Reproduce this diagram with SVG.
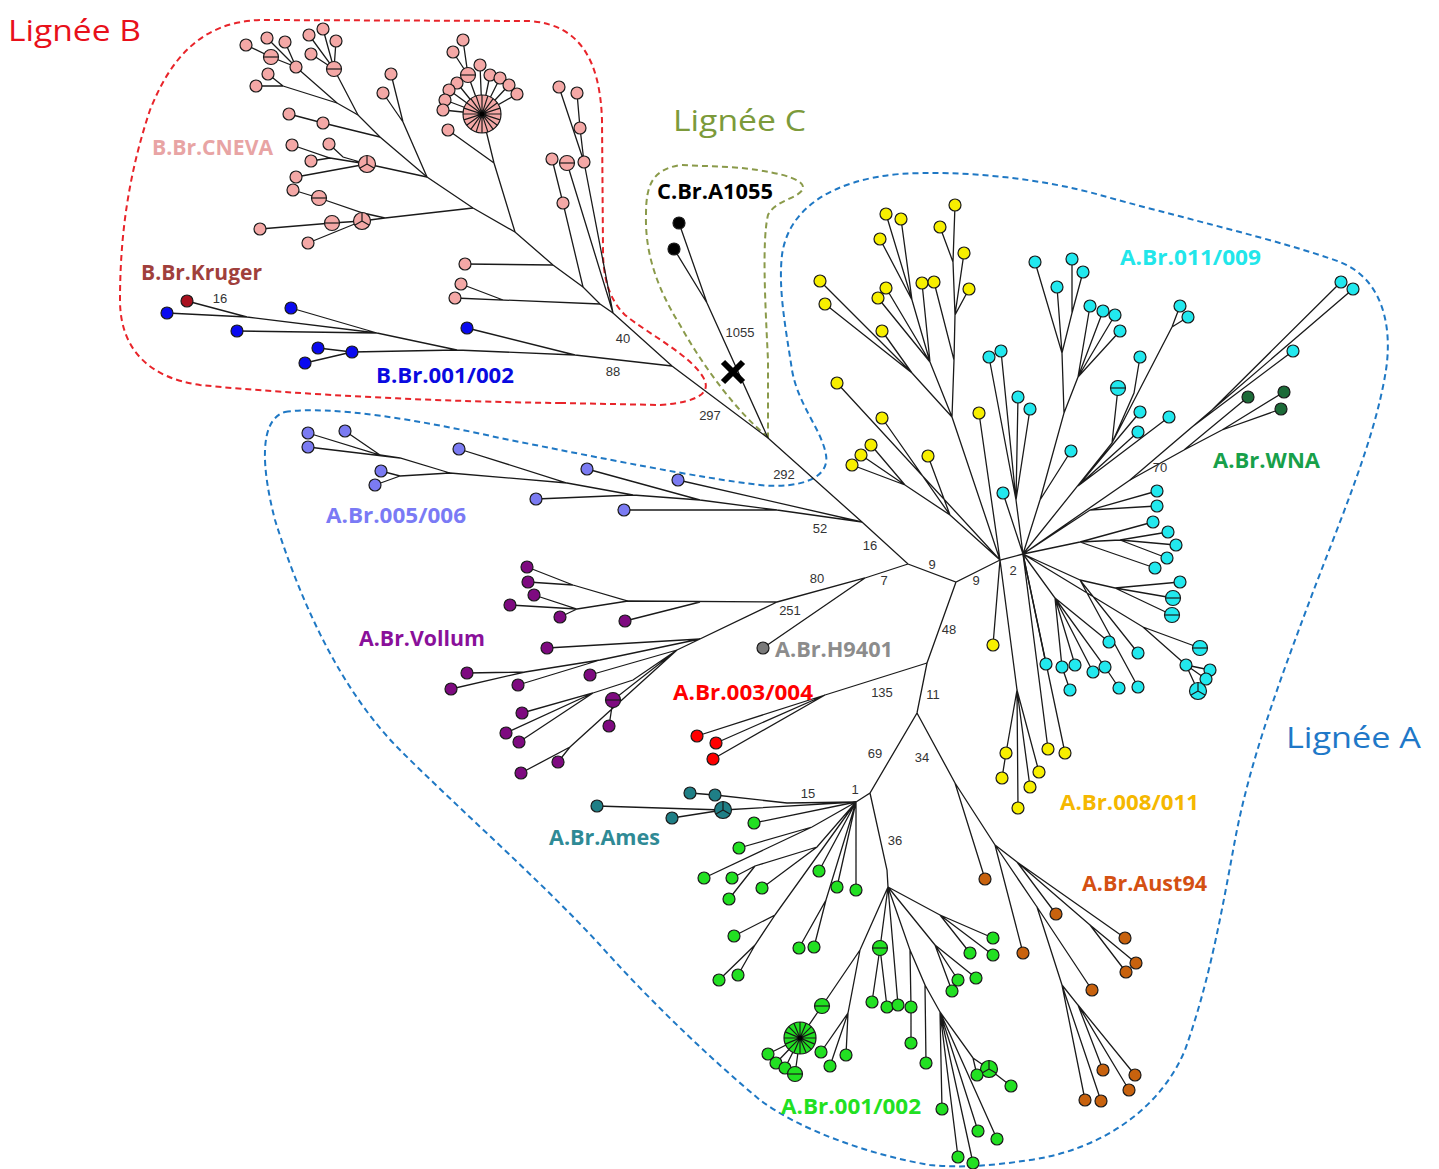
<svg xmlns="http://www.w3.org/2000/svg" width="1439" height="1169" viewBox="0 0 1439 1169">
<style>
.e{fill:none;stroke:#1a1a1a;stroke-width:1.3}
.sp{fill:none;stroke:#1a1a1a;stroke-width:1.2}
.n{stroke:#1a1a1a;stroke-width:1.2}
.pk{fill:#f4a8a6}.bl{fill:#0a0af0}.kr{fill:#a8101e}.bk{fill:#000}.lv{fill:#7b7bf2}.pu{fill:#7e0a80}.gy{fill:#7a7a7a}.rd{fill:#ff0000}.tl{fill:#1f7f86}.gr{fill:#22e022}.or{fill:#c8620e}.ye{fill:#f7ef00}.cy{fill:#22e8ee}.dg{fill:#1c6b38}
.num{font-family:'Liberation Sans',Arial,sans-serif;font-size:13px;fill:#333;text-anchor:middle}
.lab{font-family:'Open Sans','Liberation Sans',Arial,sans-serif;font-weight:bold;font-size:21px}
.lin{font-family:'Open Sans','Liberation Sans',Arial,sans-serif;font-size:30px}
.hull{fill:none;stroke-width:2;stroke-dasharray:6 4}
</style>
<g id="hulls">
<path id="hullB" class="hull" stroke="#e8242a" d="M560,403 L660,405 C700,402 712,392 703,377 C690,355 650,335 625,315 C610,300 603,280 603,250 L602,120 C600,60 580,25 530,21 L260,20 C200,22 170,60 150,110 C130,170 120,230 120,300 C120,350 150,378 200,385 C300,395 450,402 560,403 Z"/>
<path id="hullC" class="hull" stroke="#8a9a4a" d="M768,437 C740,415 705,370 680,325 C655,285 645,250 646,215 C646,185 652,170 680,165 L730,167 C770,170 805,178 803,188 C801,198 775,200 768,215 C762,240 765,300 768,360 L768,437 Z"/>
<path id="hullA" class="hull" stroke="#1f78c4" d="M285,412 C330,405 420,420 500,438 C600,458 700,478 760,485 C800,489 830,478 826,455 C822,430 798,405 792,370 C786,330 778,290 782,255 C788,210 830,180 900,174 C960,170 1040,178 1100,195 C1170,215 1280,240 1340,262 C1385,280 1392,330 1386,370 C1375,440 1340,520 1310,600 C1280,680 1250,760 1235,840 C1222,910 1210,980 1185,1050 C1160,1110 1100,1150 1030,1160 C990,1166 960,1168 930,1165 C870,1155 800,1130 760,1100 C700,1050 640,990 600,945 C540,880 460,810 400,750 C340,690 300,600 275,520 C262,470 258,420 285,412 Z"/>
</g>
<g id="connectors">
<path id="backbone" class="e" d="M283,86 L337,103 L358,115 L380,137 L427,177 L473,208 L515,232 L553,265 L583,287 L600,304 L613,313 L672,366 L768,438 L862,522 L908,564 L956,582 L1000,560 L1023,554 M956,582 L927,663 L917,713 L870,793 L856,802 M870,793 L887,870 L888,887 M908,564 L865,578 L777,602 M865,578 L763,648"/>
<path id="e-cneva" class="e" d="M283,86 L256,86 M283,86 L268,74 M337,103 L296,67 L271,57 L246,45 M296,67 L267,38 M296,67 L285,42 M358,115 L334,69 L309,35 M334,69 L323,29 M334,69 L336,41 M334,69 L311,54 M380,137 L323,123 L289,114 M427,177 L403,122 L391,74 M403,122 L383,93 M427,177 L367,164 L330,158 L292,145 M330,158 L311,161 M367,164 L343,157 L329,144 M367,164 L296,177 M473,208 L385,218 L362,221 L332,223 L260,229 M362,221 L308,243 M385,218 L363,213 L319,198 L293,190 M515,232 L494,163 L482,114 M494,163 L448,130 M482,114 L468,75 L463,40 M468,75 L453,52 M482,114 L480,65 M482,114 L490,75 M482,114 L500,78 M482,114 L509,85 M482,114 L517,94 M482,114 L457,83 M482,114 L449,90 M482,114 L445,100 M482,114 L443,110 M553,265 L465,264 M600,304 L455,298 M503,300 L461,284 M583,287 L563,203 L552,159 M613,313 L567,163 M613,313 L584,162 L580,128 L577,93 M584,162 L559,87"/>
<path id="e-b001" class="e" d="M672,366 L575,355 L457,350 L352,352 L318,348 M352,352 L305,363 M575,355 L467,328 M457,350 L377,333 L237,331 M377,333 L291,308 M377,333 L247,317 L187,301 M247,317 L167,313"/>
<path id="e-c" class="e" d="M768,438 L707,303 L679,223 M707,303 L674,249"/>
<path id="e-a005" class="e" d="M862,522 L678,480 M862,522 L777,510 L624,510 M777,510 L700,500 L587,469 M700,500 L633,495 L536,499 M633,495 L567,483 L459,449 M567,483 L450,473 L400,476 L381,471 M400,476 L375,485 M450,473 L400,458 L308,447 M400,458 L380,455 L308,433 M380,455 L345,431"/>
<path id="e-vollum" class="e" d="M777,602 L628,601 L573,585 L527,567 M573,585 L528,582 M628,601 L577,609 L534,595 M577,609 L510,605 M577,609 L560,617 M700,602 L625,621 M777,602 L677,650 M700,639 L547,648 M700,639 L600,660 L525,672 L467,673 M525,672 L451,689 M600,660 L518,685 M677,650 L590,675 M677,650 L613,700 L609,726 M677,650 L633,680 L593,693 L522,713 M593,693 L506,733 M593,693 L519,742 M677,650 L570,747 L558,762 M570,747 L521,773"/>
<path id="e-a003" class="e" d="M927,663 L825,695 L697,736 M825,695 L716,743 M825,695 L713,759"/>
<path id="e-ames" class="e" d="M856,802 L723,810 L597,806 M723,810 L672,818 M856,802 L787,803 L715,795 L690,793"/>
<path id="e-a001" class="e" d="M856,802 L754,823 M856,802 L812,827 L739,848 M812,827 L704,878 M856,802 L817,847 L762,888 M817,847 L755,866 L732,878 M755,866 L729,899 M856,802 L775,915 L734,936 M775,915 L755,945 L719,980 M755,945 L738,975 M856,802 L819,871 M856,802 L837,887 M856,802 L856,890 M856,802 L826,900 L799,948 M826,900 L814,947 M888,887 L940,915 L993,938 M940,915 L970,953 M940,915 L993,955 M888,887 L935,945 L958,980 M935,945 L952,991 M935,945 L976,978 M888,887 L880,948 L872,1002 M880,948 L887,1007 M888,887 L898,1005 M888,887 L910,950 L911,1007 L911,1043 M910,950 L925,985 L926,1063 M925,985 L940,1012 L973,1058 L989,1069 L1011,1086 M973,1058 L977,1075 M940,1012 L942,1109 M940,1012 L978,1131 M940,1012 L997,1139 M940,1012 L958,1157 M940,1012 L973,1163 M888,887 L860,950 L822,1006 L800,1038 L768,1054 M800,1038 L776,1063 M800,1038 L785,1068 M800,1038 L795,1074 M860,950 L848,1013 L821,1052 M848,1013 L830,1066 M848,1013 L846,1055"/>
<path id="e-aust94" class="e" d="M917,713 L955,783 L985,879 M955,783 L995,845 L1023,953 M995,845 L1017,862 L1056,914 M1017,862 L1125,938 M1017,862 L1090,925 L1136,963 M1090,925 L1126,972 M995,845 L1037,907 L1092,990 M1037,907 L1062,985 L1085,1100 M1062,985 L1101,1101 M1062,985 L1078,1005 L1103,1070 M1078,1005 L1135,1075 M1078,1005 L1129,1090"/>
<path id="e-a008" class="e" d="M1000,560 L993,645 M1000,560 L1017,690 L1006,753 L1002,778 M1017,690 L1018,808 M1017,690 L1030,787 M1017,690 L1039,772 M1023,554 L1048,749 M1023,554 L1065,753 M1000,560 L952,417 M1000,560 L979,413 M1000,560 L837,383 M1000,560 L950,515 L905,485 L852,465 M905,485 L861,455 M905,485 L871,445 M950,515 L882,418 M950,515 L928,456 M952,417 L912,373 L825,304 M912,373 L820,281 M912,373 L882,331 M952,417 L930,362 L886,288 M930,362 L878,298 M930,362 L922,283 M930,362 L912,300 L886,214 M912,300 L901,219 M912,300 L880,239 M952,417 L954,360 L934,282 M954,360 L955,315 L969,289 M955,315 L953,262 L955,205 M953,262 L940,227 M955,315 L964,253"/>
<path id="e-a011" class="e" d="M1023,554 L1003,493 M1023,554 L1040,500 L1064,413 L1062,353 L1035,262 M1062,353 L1057,287 M1062,353 L1072,313 L1072,259 M1072,313 L1083,272 M1064,413 L1078,377 L1090,306 M1078,377 L1103,311 M1078,377 L1115,315 M1078,377 L1120,331 M1040,500 L1071,451 M1023,554 L1016,500 L989,357 M1016,500 L1001,351 M1016,500 L1018,397 M1016,500 L1030,409 M1023,554 L1112,443 L1172,327 L1180,306 M1172,327 L1188,317 M1112,443 L1134,393 L1140,357 M1112,443 L1118,388 M1078,486 L1140,412 M1078,486 L1138,432 M1078,486 L1169,417 M1023,554 L1130,480 L1212,410 L1341,282 M1212,410 L1353,289 M1130,480 L1192,427 L1293,351 M1023,554 L1080,542 L1120,540 L1168,532 M1120,540 L1176,545 M1120,540 L1167,558 M1080,542 L1153,522 M1080,542 L1155,568 M1023,554 L1090,510 L1157,491 M1090,510 L1157,506 M1023,554 L1046,664 M1023,554 L1055,598 L1062,667 L1070,690 M1055,598 L1075,665 M1055,598 L1093,672 M1055,598 L1105,667 L1119,688 M1055,598 L1109,642 M1023,554 L1080,580 L1138,653 M1080,580 L1138,687 M1080,580 L1115,588 L1180,582 M1115,588 L1173,598 M1115,588 L1172,615 M1023,554 L1143,627 L1200,648 M1143,627 L1186,665 L1206,679 M1186,665 L1210,670 M1186,665 L1198,691"/>
<path id="e-wna" class="e" d="M1130,480 L1184,450 L1248,397 M1184,450 L1222,430 L1284,392 M1222,430 L1281,409"/>
</g>
<g id="clade-cneva">
<circle class="n pk" cx="256" cy="86" r="6"/><circle class="n pk" cx="268" cy="74" r="6"/><circle class="n pk" cx="296" cy="67" r="6"/><circle class="n pk" cx="246" cy="45" r="6"/><circle class="n pk" cx="267" cy="38" r="6"/><circle class="n pk" cx="285" cy="42" r="6"/>
<circle class="n pk" cx="271" cy="57" r="7.5"/><path class="sp" d="M263.5,57 H278.5"/>
<circle class="n pk" cx="334" cy="69" r="7.5"/><path class="sp" d="M326.5,69 H341.5"/>
<circle class="n pk" cx="309" cy="35" r="6"/><circle class="n pk" cx="323" cy="29" r="6"/><circle class="n pk" cx="336" cy="41" r="6"/><circle class="n pk" cx="311" cy="54" r="6"/>
<circle class="n pk" cx="323" cy="123" r="6"/><circle class="n pk" cx="289" cy="114" r="6"/><circle class="n pk" cx="391" cy="74" r="6"/><circle class="n pk" cx="383" cy="93" r="6"/>
<circle class="n pk" cx="367" cy="164" r="8.5"/><path class="sp" d="M367,164 V155.5 M367,164 L359.6,168.3 M367,164 L374.4,168.3"/>
<circle class="n pk" cx="292" cy="145" r="6"/><circle class="n pk" cx="311" cy="161" r="6"/><circle class="n pk" cx="329" cy="144" r="6"/><circle class="n pk" cx="296" cy="177" r="6"/>
<circle class="n pk" cx="362" cy="221" r="8.5"/><path class="sp" d="M362,221 V212.5 M362,221 L354.6,225.3 M362,221 L369.4,225.3"/>
<circle class="n pk" cx="332" cy="223" r="7.5"/><path class="sp" d="M324.5,223 H339.5"/>
<circle class="n pk" cx="260" cy="229" r="6"/><circle class="n pk" cx="308" cy="243" r="6"/>
<circle class="n pk" cx="319" cy="198" r="7.5"/><path class="sp" d="M311.5,198 H326.5"/>
<circle class="n pk" cx="293" cy="190" r="6"/><circle class="n pk" cx="448" cy="130" r="6"/><circle class="n pk" cx="463" cy="40" r="6"/>
<circle class="n pk" cx="468" cy="75" r="7.5"/><path class="sp" d="M460.5,75 H475.5"/>
<circle class="n pk" cx="453" cy="52" r="6"/><circle class="n pk" cx="480" cy="65" r="6"/><circle class="n pk" cx="490" cy="75" r="6"/><circle class="n pk" cx="500" cy="78" r="6"/><circle class="n pk" cx="509" cy="85" r="6"/><circle class="n pk" cx="517" cy="94" r="6"/><circle class="n pk" cx="457" cy="83" r="6"/><circle class="n pk" cx="449" cy="90" r="6"/><circle class="n pk" cx="445" cy="100" r="6"/><circle class="n pk" cx="443" cy="110" r="6"/>
<circle class="n pk" cx="482" cy="114" r="19"/><path class="sp" d="M463,114 L501,114 M463.9,108.1 L500.1,119.9 M466.6,102.8 L497.4,125.2 M470.8,98.6 L493.2,129.4 M476.1,95.9 L487.9,132.1 M482,95 L482,133 M487.9,95.9 L476.1,132.1 M493.2,98.6 L470.8,129.4 M497.4,102.8 L466.6,125.2 M500.1,108.1 L463.9,119.9"/><circle cx="482" cy="114" r="2.5" fill="#000"/>
<circle class="n pk" cx="465" cy="264" r="6"/><circle class="n pk" cx="455" cy="298" r="6"/><circle class="n pk" cx="461" cy="284" r="6"/><circle class="n pk" cx="563" cy="203" r="6"/><circle class="n pk" cx="552" cy="159" r="6"/>
<circle class="n pk" cx="567" cy="163" r="7.5"/><path class="sp" d="M559.5,163 H574.5"/>
<circle class="n pk" cx="584" cy="162" r="6"/><circle class="n pk" cx="580" cy="128" r="6"/><circle class="n pk" cx="577" cy="93" r="6"/><circle class="n pk" cx="559" cy="87" r="6"/>
</g>
<g id="clade-kruger"><circle class="n kr" cx="187" cy="301" r="6"/></g>
<g id="clade-b001">
<circle class="n bl" cx="167" cy="313" r="6"/><circle class="n bl" cx="237" cy="331" r="6"/><circle class="n bl" cx="291" cy="308" r="6"/><circle class="n bl" cx="352" cy="352" r="6"/><circle class="n bl" cx="318" cy="348" r="6"/><circle class="n bl" cx="305" cy="363" r="6"/><circle class="n bl" cx="467" cy="328" r="6"/>
</g>
<g id="clade-c"><circle class="n bk" cx="679" cy="223" r="6"/><circle class="n bk" cx="674" cy="249" r="6"/>
<path id="x-mark" d="M723,362 L743,382 M743,362 L723,382" stroke="#000" stroke-width="6" fill="none"/></g>
<g id="clade-a005">
<circle class="n lv" cx="308" cy="433" r="6"/><circle class="n lv" cx="345" cy="431" r="6"/><circle class="n lv" cx="308" cy="447" r="6"/><circle class="n lv" cx="381" cy="471" r="6"/><circle class="n lv" cx="375" cy="485" r="6"/><circle class="n lv" cx="459" cy="449" r="6"/><circle class="n lv" cx="587" cy="469" r="6"/><circle class="n lv" cx="536" cy="499" r="6"/><circle class="n lv" cx="678" cy="480" r="6"/><circle class="n lv" cx="624" cy="510" r="6"/>
</g>
<g id="clade-vollum">
<circle class="n pu" cx="527" cy="567" r="6"/><circle class="n pu" cx="528" cy="582" r="6"/><circle class="n pu" cx="534" cy="595" r="6"/><circle class="n pu" cx="510" cy="605" r="6"/><circle class="n pu" cx="560" cy="617" r="6"/><circle class="n pu" cx="625" cy="621" r="6"/><circle class="n pu" cx="547" cy="648" r="6"/><circle class="n pu" cx="467" cy="673" r="6"/><circle class="n pu" cx="451" cy="689" r="6"/><circle class="n pu" cx="518" cy="685" r="6"/><circle class="n pu" cx="590" cy="675" r="6"/>
<circle class="n pu" cx="613" cy="700" r="7.5"/><path class="sp" d="M605.5,700 H620.5"/>
<circle class="n pu" cx="522" cy="713" r="6"/><circle class="n pu" cx="506" cy="733" r="6"/><circle class="n pu" cx="519" cy="742" r="6"/><circle class="n pu" cx="609" cy="726" r="6"/><circle class="n pu" cx="558" cy="762" r="6"/><circle class="n pu" cx="521" cy="773" r="6"/>
</g>
<g id="clade-h9401"><circle class="n gy" cx="763" cy="648" r="6"/></g>
<g id="clade-a003"><circle class="n rd" cx="697" cy="736" r="6"/><circle class="n rd" cx="716" cy="743" r="6"/><circle class="n rd" cx="713" cy="759" r="6"/></g>
<g id="clade-ames">
<circle class="n tl" cx="597" cy="806" r="6"/><circle class="n tl" cx="690" cy="793" r="6"/><circle class="n tl" cx="715" cy="795" r="6"/><circle class="n tl" cx="672" cy="818" r="6"/>
<circle class="n tl" cx="723" cy="810" r="8.5"/><path class="sp" d="M723,810 V801.5 M723,810 L715.6,814.3 M723,810 L730.4,814.3"/>
</g>
<g id="clade-a001">
<circle class="n gr" cx="754" cy="823" r="6"/><circle class="n gr" cx="739" cy="848" r="6"/><circle class="n gr" cx="704" cy="878" r="6"/><circle class="n gr" cx="732" cy="878" r="6"/><circle class="n gr" cx="729" cy="899" r="6"/><circle class="n gr" cx="762" cy="888" r="6"/><circle class="n gr" cx="734" cy="936" r="6"/><circle class="n gr" cx="719" cy="980" r="6"/><circle class="n gr" cx="738" cy="975" r="6"/><circle class="n gr" cx="819" cy="871" r="6"/><circle class="n gr" cx="837" cy="887" r="6"/><circle class="n gr" cx="856" cy="890" r="6"/><circle class="n gr" cx="799" cy="948" r="6"/><circle class="n gr" cx="814" cy="947" r="6"/>
<circle class="n gr" cx="993" cy="938" r="6"/><circle class="n gr" cx="970" cy="953" r="6"/><circle class="n gr" cx="993" cy="955" r="6"/><circle class="n gr" cx="958" cy="980" r="6"/><circle class="n gr" cx="952" cy="991" r="6"/><circle class="n gr" cx="976" cy="978" r="6"/>
<circle class="n gr" cx="880" cy="948" r="7.5"/><path class="sp" d="M872.5,948 H887.5"/>
<circle class="n gr" cx="872" cy="1002" r="6"/><circle class="n gr" cx="887" cy="1007" r="6"/><circle class="n gr" cx="898" cy="1005" r="6"/><circle class="n gr" cx="911" cy="1007" r="6"/><circle class="n gr" cx="911" cy="1043" r="6"/><circle class="n gr" cx="926" cy="1063" r="6"/>
<circle class="n gr" cx="989" cy="1069" r="8.5"/><path class="sp" d="M989,1069 V1060.5 M989,1069 L981.6,1073.3 M989,1069 L996.4,1073.3"/>
<circle class="n gr" cx="977" cy="1075" r="6"/><circle class="n gr" cx="1011" cy="1086" r="6"/><circle class="n gr" cx="942" cy="1109" r="6"/><circle class="n gr" cx="978" cy="1131" r="6"/><circle class="n gr" cx="997" cy="1139" r="6"/><circle class="n gr" cx="958" cy="1157" r="6"/><circle class="n gr" cx="973" cy="1163" r="6"/>
<circle class="n gr" cx="822" cy="1006" r="7.5"/><path class="sp" d="M814.5,1006 H829.5"/>
<circle class="n gr" cx="768" cy="1054" r="6"/><circle class="n gr" cx="776" cy="1063" r="6"/><circle class="n gr" cx="785" cy="1068" r="6"/>
<circle class="n gr" cx="795" cy="1074" r="7.5"/><path class="sp" d="M787.5,1074 H802.5"/>
<circle class="n gr" cx="821" cy="1052" r="6"/><circle class="n gr" cx="830" cy="1066" r="6"/><circle class="n gr" cx="846" cy="1055" r="6"/>
<circle class="n gr" cx="800" cy="1038" r="16"/><path class="sp" d="M784,1038 L816,1038 M785.2,1031.9 L814.8,1044.1 M788.7,1026.7 L811.3,1049.3 M793.9,1023.2 L806.1,1052.8 M800,1022 L800,1054 M806.1,1023.2 L793.9,1052.8 M811.3,1026.7 L788.7,1049.3 M814.8,1031.9 L785.2,1044.1"/><circle cx="800" cy="1038" r="2.5" fill="#000"/>
</g>
<g id="clade-aust94">
<circle class="n or" cx="985" cy="879" r="6"/><circle class="n or" cx="1023" cy="953" r="6"/><circle class="n or" cx="1056" cy="914" r="6"/><circle class="n or" cx="1125" cy="938" r="6"/><circle class="n or" cx="1136" cy="963" r="6"/><circle class="n or" cx="1126" cy="972" r="6"/><circle class="n or" cx="1092" cy="990" r="6"/><circle class="n or" cx="1085" cy="1100" r="6"/><circle class="n or" cx="1101" cy="1101" r="6"/><circle class="n or" cx="1103" cy="1070" r="6"/><circle class="n or" cx="1135" cy="1075" r="6"/><circle class="n or" cx="1129" cy="1090" r="6"/>
</g>
<g id="clade-a008">
<circle class="n ye" cx="993" cy="645" r="6"/><circle class="n ye" cx="1006" cy="753" r="6"/><circle class="n ye" cx="1002" cy="778" r="6"/><circle class="n ye" cx="1018" cy="808" r="6"/><circle class="n ye" cx="1030" cy="787" r="6"/><circle class="n ye" cx="1039" cy="772" r="6"/><circle class="n ye" cx="1048" cy="749" r="6"/><circle class="n ye" cx="1065" cy="753" r="6"/>
<circle class="n ye" cx="886" cy="214" r="6"/><circle class="n ye" cx="901" cy="219" r="6"/><circle class="n ye" cx="955" cy="205" r="6"/><circle class="n ye" cx="880" cy="239" r="6"/><circle class="n ye" cx="940" cy="227" r="6"/><circle class="n ye" cx="964" cy="253" r="6"/><circle class="n ye" cx="820" cy="281" r="6"/><circle class="n ye" cx="825" cy="304" r="6"/><circle class="n ye" cx="886" cy="288" r="6"/><circle class="n ye" cx="878" cy="298" r="6"/><circle class="n ye" cx="922" cy="283" r="6"/><circle class="n ye" cx="934" cy="282" r="6"/><circle class="n ye" cx="969" cy="289" r="6"/><circle class="n ye" cx="882" cy="331" r="6"/><circle class="n ye" cx="837" cy="383" r="6"/><circle class="n ye" cx="882" cy="418" r="6"/><circle class="n ye" cx="871" cy="445" r="6"/><circle class="n ye" cx="861" cy="455" r="6"/><circle class="n ye" cx="852" cy="465" r="6"/><circle class="n ye" cx="928" cy="456" r="6"/><circle class="n ye" cx="979" cy="413" r="6"/>
</g>
<g id="clade-a011">
<circle class="n cy" cx="1035" cy="262" r="6"/><circle class="n cy" cx="1072" cy="259" r="6"/><circle class="n cy" cx="1083" cy="272" r="6"/><circle class="n cy" cx="1057" cy="287" r="6"/><circle class="n cy" cx="1090" cy="306" r="6"/><circle class="n cy" cx="1103" cy="311" r="6"/><circle class="n cy" cx="1115" cy="315" r="6"/><circle class="n cy" cx="1120" cy="331" r="6"/><circle class="n cy" cx="1180" cy="306" r="6"/><circle class="n cy" cx="1188" cy="317" r="6"/><circle class="n cy" cx="1341" cy="282" r="6"/><circle class="n cy" cx="1353" cy="289" r="6"/><circle class="n cy" cx="1293" cy="351" r="6"/><circle class="n cy" cx="989" cy="357" r="6"/><circle class="n cy" cx="1001" cy="351" r="6"/><circle class="n cy" cx="1018" cy="397" r="6"/><circle class="n cy" cx="1030" cy="409" r="6"/><circle class="n cy" cx="1071" cy="451" r="6"/><circle class="n cy" cx="1140" cy="357" r="6"/>
<circle class="n cy" cx="1118" cy="388" r="7.5"/><path class="sp" d="M1110.5,388 H1125.5"/>
<circle class="n cy" cx="1140" cy="412" r="6"/><circle class="n cy" cx="1169" cy="417" r="6"/><circle class="n cy" cx="1138" cy="432" r="6"/><circle class="n cy" cx="1003" cy="493" r="6"/>
<circle class="n cy" cx="1157" cy="491" r="6"/><circle class="n cy" cx="1157" cy="506" r="6"/><circle class="n cy" cx="1153" cy="522" r="6"/><circle class="n cy" cx="1168" cy="532" r="6"/><circle class="n cy" cx="1176" cy="545" r="6"/><circle class="n cy" cx="1167" cy="558" r="6"/><circle class="n cy" cx="1155" cy="568" r="6"/>
<circle class="n cy" cx="1046" cy="664" r="6"/><circle class="n cy" cx="1062" cy="667" r="6"/><circle class="n cy" cx="1070" cy="690" r="6"/><circle class="n cy" cx="1075" cy="665" r="6"/><circle class="n cy" cx="1093" cy="672" r="6"/><circle class="n cy" cx="1105" cy="667" r="6"/><circle class="n cy" cx="1119" cy="688" r="6"/><circle class="n cy" cx="1109" cy="642" r="6"/><circle class="n cy" cx="1138" cy="653" r="6"/><circle class="n cy" cx="1138" cy="687" r="6"/><circle class="n cy" cx="1180" cy="582" r="6"/>
<circle class="n cy" cx="1173" cy="598" r="7.5"/><path class="sp" d="M1165.5,598 H1180.5"/>
<circle class="n cy" cx="1172" cy="615" r="7.5"/><path class="sp" d="M1164.5,615 H1179.5"/>
<circle class="n cy" cx="1200" cy="648" r="7.5"/><path class="sp" d="M1192.5,648 H1207.5"/>
<circle class="n cy" cx="1186" cy="665" r="6"/><circle class="n cy" cx="1210" cy="670" r="6"/><circle class="n cy" cx="1206" cy="679" r="6"/>
<circle class="n cy" cx="1198" cy="691" r="8.5"/><path class="sp" d="M1198,691 V682.5 M1198,691 L1190.6,695.3 M1198,691 L1205.4,695.3"/>
</g>
<g id="clade-wna"><circle class="n dg" cx="1248" cy="397" r="6"/><circle class="n dg" cx="1284" cy="392" r="6"/><circle class="n dg" cx="1281" cy="409" r="6"/></g>
<g id="branch-lengths">
<text class="num" x="220" y="303">16</text><text class="num" x="623" y="343">40</text><text class="num" x="613" y="376">88</text><text class="num" x="710" y="420">297</text><text class="num" x="740" y="337">1055</text><text class="num" x="784" y="479">292</text><text class="num" x="820" y="533">52</text><text class="num" x="870" y="550">16</text><text class="num" x="932" y="569">9</text><text class="num" x="976" y="585">9</text><text class="num" x="1013" y="575">2</text><text class="num" x="817" y="583">80</text><text class="num" x="884" y="585">7</text><text class="num" x="790" y="615">251</text><text class="num" x="949" y="634">48</text><text class="num" x="882" y="697">135</text><text class="num" x="933" y="699">11</text><text class="num" x="875" y="758">69</text><text class="num" x="922" y="762">34</text><text class="num" x="808" y="798">15</text><text class="num" x="855" y="794">1</text><text class="num" x="895" y="845">36</text><text class="num" x="1160" y="472">70</text>
</g>
<g id="labels">
<text class="lin" x="8" y="41" fill="#e8101a" textLength="133" lengthAdjust="spacingAndGlyphs">Lignée B</text>
<text class="lin" x="673" y="131" fill="#7c9a3a" textLength="133" lengthAdjust="spacingAndGlyphs">Lignée C</text>
<text class="lin" x="1286" y="748" fill="#1f78c8" textLength="135" lengthAdjust="spacingAndGlyphs">Lignée A</text>
<text class="lab" x="152" y="155" fill="#e8a4a4" textLength="121" lengthAdjust="spacingAndGlyphs">B.Br.CNEVA</text>
<text class="lab" x="141" y="280" fill="#a0403c" textLength="121" lengthAdjust="spacingAndGlyphs">B.Br.Kruger</text>
<text class="lab" x="376" y="383" fill="#0a0ae0" textLength="138" lengthAdjust="spacingAndGlyphs">B.Br.001/002</text>
<text class="lab" x="657" y="199" fill="#000" textLength="116" lengthAdjust="spacingAndGlyphs">C.Br.A1055</text>
<text class="lab" x="1120" y="265" fill="#22e6ea" textLength="141" lengthAdjust="spacingAndGlyphs">A.Br.011/009</text>
<text class="lab" x="1213" y="468" fill="#18a04a" textLength="107" lengthAdjust="spacingAndGlyphs">A.Br.WNA</text>
<text class="lab" x="326" y="523" fill="#7a7af5" textLength="140" lengthAdjust="spacingAndGlyphs">A.Br.005/006</text>
<text class="lab" x="359" y="646" fill="#8a109a" textLength="126" lengthAdjust="spacingAndGlyphs">A.Br.Vollum</text>
<text class="lab" x="775" y="657" fill="#8c8c8c" textLength="118" lengthAdjust="spacingAndGlyphs">A.Br.H9401</text>
<text class="lab" x="673" y="700" fill="#ff0000" textLength="140" lengthAdjust="spacingAndGlyphs">A.Br.003/004</text>
<text class="lab" x="549" y="845" fill="#2f8a95" textLength="111" lengthAdjust="spacingAndGlyphs">A.Br.Ames</text>
<text class="lab" x="781" y="1114" fill="#22e022" textLength="140" lengthAdjust="spacingAndGlyphs">A.Br.001/002</text>
<text class="lab" x="1060" y="810" fill="#f5b800" textLength="139" lengthAdjust="spacingAndGlyphs">A.Br.008/011</text>
<text class="lab" x="1082" y="891" fill="#d45012" textLength="125" lengthAdjust="spacingAndGlyphs">A.Br.Aust94</text>
</g>
</svg>
